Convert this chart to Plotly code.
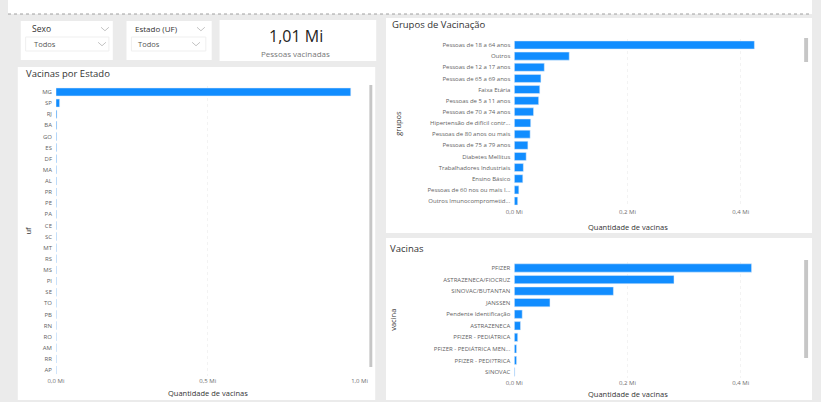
import plotly.graph_objects as go

W, H = 821, 402

# ---------------- data ----------------
uf_labels = ["MG", "SP", "RJ", "BA", "GO", "ES", "DF", "MA", "AL", "PR", "PE", "PA", "CE",
             "SC", "MT", "RS", "MS", "PI", "SE", "TO", "PB", "RN", "RO", "AM", "RR", "AP"]
uf_values = [0.971, 0.012, 0.003, 0.0025, 0.002, 0.002, 0.002, 0.0018, 0.0018, 0.0017,
             0.0016, 0.0016, 0.0015, 0.0015, 0.0014, 0.0014, 0.0013, 0.0013, 0.0012,
             0.0012, 0.0011, 0.0011, 0.001, 0.001, 0.001, 0.001]

grupo_labels = ["Pessoas de 18 a 64 anos", "Outros", "Pessoas de 12 a 17 anos",
                "Pessoas de 65 a 69 anos", "Faixa Etária", "Pessoas de 5 a 11 anos",
                "Pessoas de 70 a 74 anos", "Hipertensão de difícil contr...",
                "Pessoas de 80 anos ou mais", "Pessoas de 75 a 79 anos",
                "Diabetes Mellitus", "Trabalhadores Industriais", "Ensino Básico",
                "Pessoas de 60 nos ou mais I...", "Outros Imunocomprometid..."]
grupo_values = [0.424, 0.097, 0.053, 0.047, 0.045, 0.043, 0.034, 0.029, 0.028, 0.024,
                0.021, 0.016, 0.015, 0.008, 0.006]

vacina_labels = ["PFIZER", "ASTRAZENECA/FIOCRUZ", "SINOVAC/BUTANTAN", "JANSSEN",
                 "Pendente Identificação", "ASTRAZENECA", "PFIZER - PEDIÁTRICA",
                 "PFIZER - PEDIÁTRICA MEN...", "PFIZER - PEDI?TRICA", "SINOVAC"]
vacina_values = [0.419, 0.282, 0.175, 0.063, 0.014, 0.011, 0.006, 0.004, 0.004, 0.001]

uf_ticks = [0, 0.5, 1.0]
uf_ticktext = ["0,0 Mi", "0,5 Mi", "1,0 Mi"]
small_ticks = [0, 0.2, 0.4]
small_ticktext = ["0,0 Mi", "0,2 Mi", "0,4 Mi"]

total_text = "1,01 Mi"

# ---------------- helpers ----------------
def px(x):
    return x / W

def py(y):
    return 1 - y / H

FONT = "Open Sans"
BAR = "#118DFF"
BG = "#ebebeb"
TICK = "#6e6e6e"
TITLE = "#333333"

shapes = []
annotations = []

def rect(x0, y0, x1, y1, fill="white", line=None, layer="below"):
    shapes.append(dict(type="rect", xref="paper", yref="paper",
                       x0=px(x0), x1=px(x1), y0=py(y1), y1=py(y0),
                       fillcolor=fill, line=dict(width=1 if line else 0, color=line or fill),
                       layer=layer))

def chevron(cx, cy, w=8, h=3.5, color="#b4b4b4"):
    path = "M {} {} L {} {} L {} {}".format(px(cx - w / 2), py(cy - h / 2), px(cx), py(cy + h / 2),
                                           px(cx + w / 2), py(cy - h / 2))
    shapes.append(dict(type="path", xref="paper", yref="paper", path=path,
                       line=dict(color=color, width=0.8), layer="above"))

def text(x, y, s, size, color=TITLE, xanchor="left", angle=0):
    annotations.append(dict(xref="paper", yref="paper", x=px(x), y=py(y), text=s,
                            showarrow=False, xanchor=xanchor, yanchor="middle",
                            textangle=angle, font=dict(family=FONT, size=size, color=color)))

# top white strip and dotted line
rect(0, 0, 821, 14)
shapes.append(dict(type="line", xref="paper", yref="paper", x0=0, x1=1, y0=py(14), y1=py(14),
                   line=dict(color="#a0a0a0", width=1, dash="dot"), layer="below"))

# slicers
rect(13, 21, 107, 60)
rect(18, 37, 103, 51, fill="white", line="#efefef")
text(22, 29, "Sexo", 8.5)
chevron(99, 29)
text(24, 44, "Todos", 7.5, color="#555555")
chevron(96, 44)

rect(121, 21, 208, 60)
rect(126, 37, 202, 51, fill="white", line="#efefef")
text(128, 29, "Estado (UF)", 8)
chevron(197, 29)
text(131, 44, "Todos", 7.5, color="#555555")
chevron(192, 44)

# card
rect(216, 20, 376, 61)
text(294, 36, total_text, 16, color="#252423", xanchor="center")
text(294, 53, "Pessoas vacinadas", 8, color="#777777", xanchor="center")

# panels
rect(10, 67, 375, 400)
rect(386, 18, 821, 233)
rect(386, 238, 821, 400)

text(16, 74, "Vacinas por Estado", 9.5)
text(390, 25, "Grupos de Vacinação", 9.5)
text(388, 248, "Vacinas", 9.5)

# scroll bars
rect(369, 85, 372, 367, fill="#c6c6c6", layer="above")
rect(813, 38, 817, 62, fill="#c6c6c6", layer="above")
rect(813, 260, 817, 358, fill="#c6c6c6", layer="above")

# axis titles
text(204, 393, "Quantidade de vacinas", 7.5, xanchor="center")
text(633, 227, "Quantidade de vacinas", 7.5, xanchor="center")
text(633, 394, "Quantidade de vacinas", 7.5, xanchor="center")
text(20, 231, "uf", 7.5, xanchor="center", angle=-90)
text(398, 123, "grupos", 7.5, xanchor="center", angle=-90)
text(393, 320, "vacina", 7.5, xanchor="center", angle=-90)

# ---------------- traces ----------------
fig = go.Figure()
fig.add_trace(go.Bar(x=uf_values, y=uf_labels, orientation="h", marker_color=BAR,
                     xaxis="x", yaxis="y", showlegend=False))
fig.add_trace(go.Bar(x=grupo_values, y=grupo_labels, orientation="h", marker_color=BAR,
                     xaxis="x2", yaxis="y2", showlegend=False))
fig.add_trace(go.Bar(x=vacina_values, y=vacina_labels, orientation="h", marker_color=BAR,
                     xaxis="x3", yaxis="y3", showlegend=False))

tickfont = dict(family=FONT, size=6, color=TICK)
catfont = dict(family=FONT, size=6, color="#5f5f5f")

def xax(domain, rng, tv, tt, anchor):
    return dict(domain=domain, range=rng, tickvals=tv, ticktext=tt, tickfont=tickfont,
                showgrid=True, gridcolor="#f3f3f3", griddash="dot", gridwidth=1,
                zeroline=False, showline=False, ticks="", anchor=anchor, fixedrange=True)

def yax(domain, cats, anchor):
    n = len(cats)
    return dict(domain=domain, type="category", categoryorder="array", categoryarray=cats,
                range=[n - 0.5, -0.5], tickfont=catfont, showgrid=False, zeroline=False,
                showline=False, ticks="", ticklabelstandoff=3, anchor=anchor, fixedrange=True)

fig.update_layout(
    width=W, height=H,
    margin=dict(l=0, r=0, t=0, b=0),
    paper_bgcolor=BG, plot_bgcolor="rgba(0,0,0,0)",
    bargap=0.28,
    font=dict(family=FONT),
    xaxis=xax([px(49), px(359)], [0, 1.0], uf_ticks, uf_ticktext, "y"),
    yaxis=yax([py(375.6), py(86.4)], uf_labels, "x"),
    xaxis2=xax([px(517), px(783)], [0, 0.46], small_ticks, small_ticktext, "y2"),
    yaxis2=yax([py(206.6), py(39.4)], grupo_labels, "x2"),
    xaxis3=xax([px(517), px(783)], [0, 0.46], small_ticks, small_ticktext, "y3"),
    yaxis3=yax([py(377.8), py(262.2)], vacina_labels, "x3"),
    shapes=shapes,
    annotations=annotations,
)

fig.write_html("out.html")
